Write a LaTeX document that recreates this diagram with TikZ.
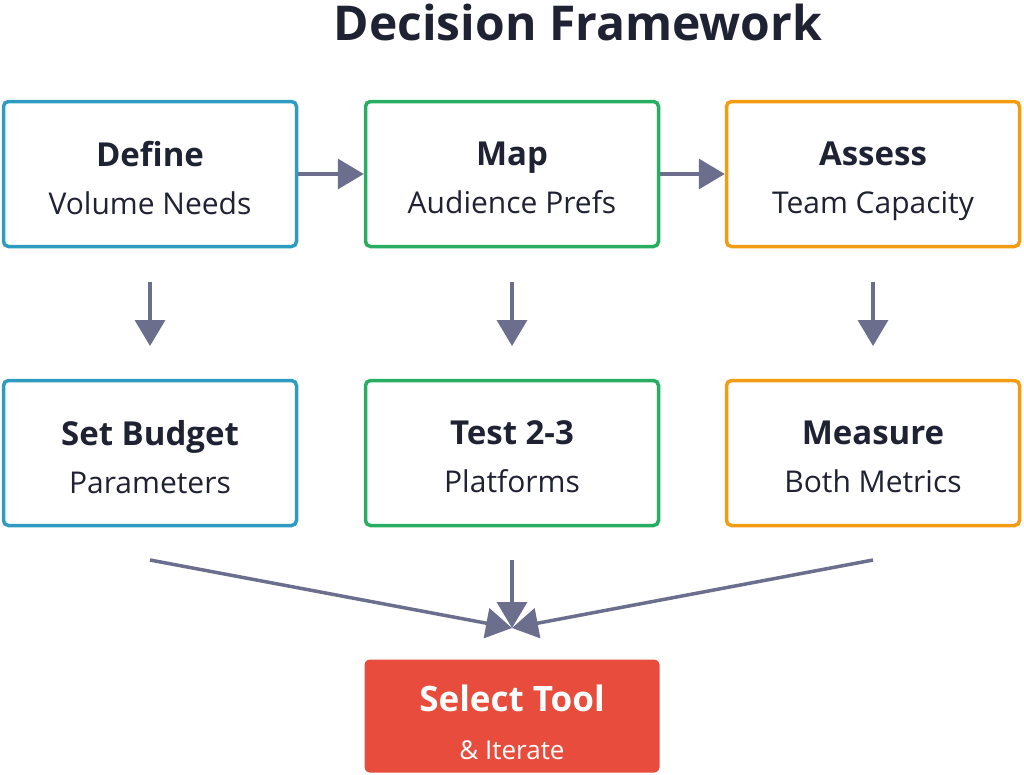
\documentclass[tikz,border=0pt]{standalone}
\usepackage{fontspec}
\setmainfont{Open Sans}
\usetikzlibrary{arrows.meta}
\definecolor{cb}{HTML}{2E9CC0}
\definecolor{cg}{HTML}{27AE60}
\definecolor{co}{HTML}{F39C12}
\definecolor{cr}{HTML}{E74C3C}
\definecolor{ca}{HTML}{6B6E8C}
\definecolor{ct}{HTML}{1F2233}
\newcommand{\bx}[2]{{\fontsize{33}{48}\selectfont\bfseries #1}\\{\fontsize{30}{48}\selectfont #2}}
\begin{document}
\begin{tikzpicture}[x=1pt,y=-1pt,
 box/.style={draw=#1,line width=3.5pt,rounded corners=5pt,fill=white,minimum width=293pt,minimum height=145pt,inner sep=0pt},
 lbl/.style={text=ct,align=center,font=\fontsize{30}{48}\selectfont,text depth=0pt},
 arr/.style={draw=ca,line width=3.5pt,-{Triangle[length=26pt,width=30pt]}}]
\useasboundingbox (0,0) rectangle (1024,774);
\node[text=ct,font=\fontsize{48}{54}\selectfont\bfseries] (title) at (578,22) {Decision Framework};
\node[box=cb] (a) at (150,174) {};
\node[box=cg] (b) at (512,174) {};
\node[box=co] (c) at (873,174) {};
\node[lbl] (at) at (150,178) {\bx{Define}{Volume Needs}};
\node[lbl] (bt) at (512,178) {\bx{Map}{Audience Prefs}};
\node[lbl] (ct) at (873,178) {\bx{Assess}{Team Capacity}};
\node[box=cb] (d) at (150,453) {};
\node[box=cg] (e) at (512,453) {};
\node[box=co] (f) at (873,453) {};
\node[lbl] (dt) at (150,457) {\bx{Set Budget}{Parameters}};
\node[lbl] (et) at (512,457) {\bx{Test 2-3}{Platforms}};
\node[lbl] (ft) at (873,457) {\bx{Measure}{Both Metrics}};
\node[fill=cr,rounded corners=5pt,minimum width=295pt,minimum height=113pt,inner sep=0pt] (g) at (512,716) {};
\node[text=white,align=center,font=\fontsize{26}{48}\selectfont,text depth=0pt] (gt) at (512,722) {{\fontsize{35}{48}\selectfont\bfseries Select Tool}\\{\fontsize{26}{48}\selectfont \& Iterate}};
\coordinate (m) at (512,628);
\coordinate (a1) at (150,282); \coordinate (a2) at (150,346);
\coordinate (b1) at (512,282); \coordinate (b2) at (512,346);
\coordinate (c1) at (873,282); \coordinate (c2) at (873,346);
\coordinate (d1) at (150,560); \coordinate (e1) at (512,560); \coordinate (f1) at (873,560);
\draw[arr] (a.east) -- (b.west);
\draw[arr] (b.east) -- (c.west);
\draw[arr] (a1) -- (a2);
\draw[arr] (b1) -- (b2);
\draw[arr] (c1) -- (c2);
\draw[arr] (d1) -- (m);
\draw[arr] (e1) -- (m);
\draw[arr] (f1) -- (m);
\end{tikzpicture}
\end{document}
